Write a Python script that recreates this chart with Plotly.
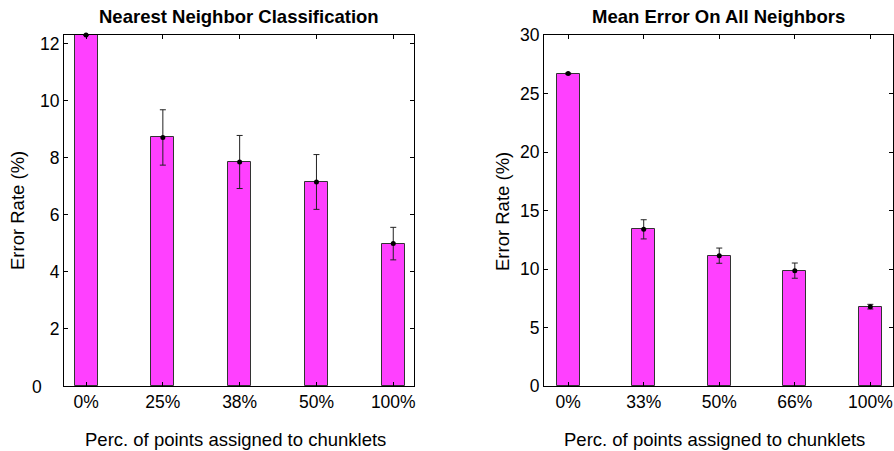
import plotly.graph_objects as go

# Data
left_title = "Nearest Neighbor Classification"
left_categories = ["0%", "25%", "38%", "50%", "100%"]
left_values = [12.3, 8.71, 7.85, 7.15, 4.99]
left_errors = [0.0, 0.97, 0.93, 0.96, 0.57]
left_yticks = [0, 2, 4, 6, 8, 10, 12]

right_title = "Mean Error On All Neighbors"
right_categories = ["0%", "33%", "50%", "66%", "100%"]
right_values = [26.7, 13.39, 11.14, 9.86, 6.78]
right_errors = [0.05, 0.82, 0.65, 0.65, 0.2]
right_yticks = [0, 5, 10, 15, 20, 25, 30]

x_title = "Perc. of points assigned to chunklets"
y_title = "Error Rate (%)"

W, H = 894, 451
FONT = "Liberation Sans, Arial, Helvetica, sans-serif"
BAR = "#FF40FF"

fig = go.Figure()

def px(v):
    return v / W

def py(v):
    return 1 - v / H

panels = [
    dict(cats=left_categories, vals=left_values, errs=left_errors, ticks=left_yticks,
         xr=[-0.287, 4.27], yr=[0, 12.3], dom=[px(64), px(414)], xa="x", ya="y",
         title=left_title, tcx=239, ytx=18, xtx=235, zero_custom=True),
    dict(cats=right_categories, vals=right_values, errs=right_errors, ticks=right_yticks,
         xr=[-0.32, 4.30], yr=[0, 30], dom=[px(544), px(893)], xa="x2", ya="y2",
         title=right_title, tcx=718, ytx=503, xtx=714, zero_custom=False),
]

ydom = [py(386), py(35)]
TICK = 17.5
LAB = 18.5

for i, p in enumerate(panels):
    xs = list(range(len(p["cats"])))
    fig.add_trace(go.Bar(
        x=xs, y=p["vals"], width=0.3, xaxis=p["xa"], yaxis=p["ya"],
        marker=dict(color=BAR, line=dict(color="#333333", width=1)),
        showlegend=False, cliponaxis=True,
    ))
    fig.add_trace(go.Scatter(
        x=xs, y=p["vals"], mode="markers", xaxis=p["xa"], yaxis=p["ya"],
        marker=dict(color="black", size=5),
        error_y=dict(type="data", array=p["errs"], color="#222222", thickness=1, width=3),
        showlegend=False, cliponaxis=False,
    ))
    sfx = "" if i == 0 else "2"
    yticktext = [str(t) for t in p["ticks"]]
    if p["zero_custom"]:
        yticktext[0] = ""
    fig.layout["xaxis" + sfx] = dict(
        domain=p["dom"], range=p["xr"], tickmode="array", tickvals=xs, ticktext=p["cats"],
        ticks="inside", ticklen=4, tickcolor="black", showline=True, linecolor="black",
        linewidth=1, mirror="ticks", showgrid=False, zeroline=False, automargin=False,
        tickfont=dict(family=FONT, size=TICK, color="black"), anchor="y" + sfx,
    )
    fig.layout["yaxis" + sfx] = dict(
        domain=ydom, range=p["yr"], tickmode="array", tickvals=p["ticks"], ticktext=yticktext,
        ticks="inside", ticklen=4, tickcolor="black", showline=True, linecolor="black",
        linewidth=1, mirror="ticks", showgrid=False, zeroline=False, automargin=False,
        tickfont=dict(family=FONT, size=TICK, color="black"), anchor="x" + sfx,
    )
    fig.add_annotation(x=px(p["tcx"]), y=py(16), xref="paper", yref="paper",
                       text="<b>" + p["title"] + "</b>", showarrow=False,
                       font=dict(family=FONT, size=LAB, color="black"),
                       xanchor="center", yanchor="middle")
    fig.add_annotation(x=px(p["ytx"]), y=py(211), xref="paper", yref="paper",
                       text=y_title, textangle=-90, showarrow=False,
                       font=dict(family=FONT, size=LAB, color="black"),
                       xanchor="center", yanchor="middle")
    fig.add_annotation(x=px(p["xtx"]), y=py(439), xref="paper", yref="paper",
                       text=x_title, showarrow=False,
                       font=dict(family=FONT, size=LAB, color="black"),
                       xanchor="center", yanchor="middle")
    if p["zero_custom"]:
        fig.add_annotation(x=px(44), y=py(387), xref="paper", yref="paper",
                           text="0", showarrow=False,
                           font=dict(family=FONT, size=TICK, color="black"),
                           xanchor="right", yanchor="middle")

fig.update_layout(
    width=W, height=H, margin=dict(l=0, r=0, t=0, b=0),
    paper_bgcolor="white", plot_bgcolor="white", bargap=0,
)

fig.write_html(
    "out.html",
    config={"displayModeBar": False},
    post_script="document.body.style.margin='0';document.documentElement.style.overflow='hidden';document.body.style.overflow='hidden';",
)
